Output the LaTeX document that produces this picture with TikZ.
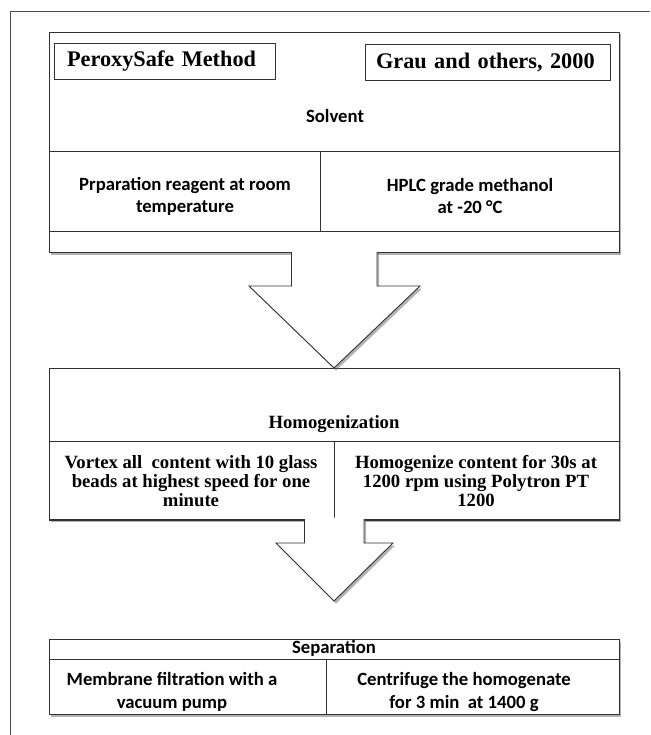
\documentclass[tikz,border=0pt]{standalone}
\usepackage{fontspec}
\setmainfont{Liberation Serif}
\newfontfamily\calfont{Carlito}
\usetikzlibrary{shadows,calc}
\newcommand\headfnt{\bfseries\fontsize{22.3}{26}\selectfont}
\newcommand\calfnt[1]{\calfont\bfseries\fontsize{18.7}{#1}\selectfont}
\newcommand\serfnt[1]{\bfseries\fontsize{18.7}{#1}\selectfont}
\begin{document}
\begin{tikzpicture}[x=1pt,y=-1pt,
  ln/.style={draw=black!80, line width=0.9pt},
  framel/.style={draw=black!70, line width=0.9pt},
  shad/.style={drop shadow={shadow xshift=2pt, shadow yshift=-2.5pt, opacity=0.5, fill=black!60}},
  panel/.style={ln, fill=white, inner sep=0pt, outer sep=0pt, anchor=north west, shad},
  cellbox/.style={ln, inner sep=0pt, outer sep=0pt, anchor=north west},
  tag/.style={ln, line width=0.8pt, anchor=north west, inner ysep=0pt, outer sep=0pt, align=left, font=\headfnt},
  sanslab/.style={align=center, inner sep=0pt},
  seriflab/.style={align=center, inner sep=0pt},
  blockarrow/.style={ln, line join=miter}
]
\useasboundingbox (0,0) rectangle (650,735);
% outer frame
\coordinate (fbl) at (10,735);
\coordinate (ftl) at (10,11);
\coordinate (ftr) at (650,11);
\draw[framel] (fbl) -- (ftl) -- (ftr);

% ---- top panel ----
\node[panel, minimum width=570pt, minimum height=220pt] (topbox) at (49,32) {};
\node[tag, minimum width=221pt, minimum height=36pt, text width=195pt, inner xsep=13pt] (peroxy) at (54,43) {PeroxySafe Method};
\node[tag, minimum width=245pt, minimum height=36pt, text width=223pt, inner xsep=11pt] (grau) at (365,44) {Grau and others, 2000};
\node[sanslab, font=\calfnt{22}] (solvent) at (335,116) {Solvent};
\node[cellbox, minimum width=271pt, minimum height=80pt] (prepcell) at (49,151) {};
\node[cellbox, minimum width=299pt, minimum height=80pt] (hplccell) at (320,151) {};
\node[sanslab, font=\calfnt{22}] (prep) at (185,196) {Prparation reagent at room\\temperature};
\node[sanslab, font=\calfnt{22}] (hplc) at (470,196) {HPLC grade methanol\\at -20 °C};

% ---- homogenization panel ----
\node[panel, minimum width=570pt, minimum height=151pt] (homog) at (49,368) {};
\node[seriflab, font=\serfnt{19.5}] (homlabel) at (334,424) {Homogenization};
\node[cellbox, minimum width=285pt, minimum height=79pt] (vortcell) at (49,441) {};
\node[cellbox, minimum width=285pt, minimum height=79pt] (polycell) at (334,441) {};
\node[seriflab, font=\serfnt{19.3}] (vortex) at (191,481) {Vortex all~ content with 10 glass\\beads at highest speed for one\\minute};
\node[seriflab, font=\serfnt{19.3}] (polytron) at (476,481) {Homogenize content for 30s at\\1200 rpm using Polytron PT\\1200};

% ---- separation panel ----
\node[panel, minimum width=570pt, minimum height=75pt] (sep) at (49,639) {};
\node[sanslab, font=\calfnt{22}] (seplabel) at (334,648.5) {Separation};
\node[cellbox, minimum width=277pt, minimum height=55pt] (membcell) at (49,659) {};
\node[cellbox, minimum width=293pt, minimum height=55pt] (centcell) at (326,659) {};
\node[sanslab, font=\calfnt{23.5}] (memb) at (172,692) {Membrane filtration with a\\vacuum pump};
\node[sanslab, font=\calfnt{23.5}] (centr) at (464,692) {Centrifuge the homogenate\\for 3 min~ at 1400 g};

% ---- block arrow 1 ----
\path[fill=white, shad] ($(topbox.south)+(-42.5,-1.5)$) -- ($(topbox.south)+(-42.5,34)$) -- ($(topbox.south)+(-85,34)$) -- (homog.north) -- ($(topbox.south)+(86,34)$) -- ($(topbox.south)+(43,34)$) -- ($(topbox.south)+(43,-1.5)$) -- cycle;
\draw[blockarrow] ($(topbox.south)+(-42.5,0)$) -- ($(topbox.south)+(-42.5,34)$) -- ($(topbox.south)+(-85,34)$) -- (homog.north) -- ($(topbox.south)+(86,34)$) -- ($(topbox.south)+(43,34)$) -- ($(topbox.south)+(43,0)$);

% ---- block arrow 2 ----
\coordinate (tip2) at (334,601);
\path[fill=white, shad] ($(homog.south)+(-29.5,-1.5)$) -- ($(homog.south)+(-29.5,24)$) -- ($(homog.south)+(-58,24)$) -- (tip2) -- ($(homog.south)+(59,24)$) -- ($(homog.south)+(30,24)$) -- ($(homog.south)+(30,-1.5)$) -- cycle;
\draw[blockarrow] ($(homog.south)+(-29.5,0)$) -- ($(homog.south)+(-29.5,24)$) -- ($(homog.south)+(-58,24)$) -- (tip2) -- ($(homog.south)+(59,24)$) -- ($(homog.south)+(30,24)$) -- ($(homog.south)+(30,0)$);
\end{tikzpicture}
\end{document}
